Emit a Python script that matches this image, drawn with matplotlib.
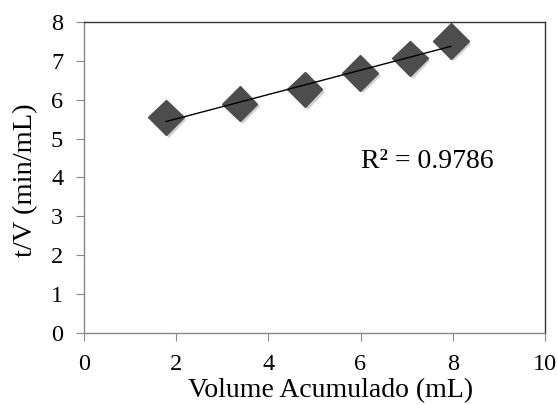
import numpy as np
import matplotlib
matplotlib.use("Agg")
import matplotlib.pyplot as plt
import matplotlib.patheffects as pe

plt.rcParams['font.family'] = ['Liberation Serif', 'DejaVu Serif']

volume = [1.78, 3.38, 4.79, 5.99, 7.07, 7.96]
t_over_v = [5.55, 5.90, 6.27, 6.69, 7.06, 7.51]
xticks = [0, 2, 4, 6, 8, 10]
yticks = [0, 1, 2, 3, 4, 5, 6, 7, 8]
r2_text = "R² = 0.9786"

fig = plt.figure(figsize=(5.58, 4.05), dpi=100)
ax = fig.add_axes([0.1505, 0.1778, 0.826, 0.768])

x = np.array(volume)
y = np.array(t_over_v)
m, b = np.polyfit(x, y, 1)
xl = np.array([x.min(), x.max()])

ax.plot(x, y, linestyle='none', marker='D', markersize=18,
        color='#4d4d4d', markeredgecolor='#4d4d4d', zorder=3,
        path_effects=[pe.SimplePatchShadow(offset=(2, -2), shadow_rgbFace='#666666', alpha=0.3), pe.Normal()])
ax.plot(xl, m * xl + b, color='black', linewidth=1.0, zorder=4)

ax.text(6.0, 4.4, r2_text, fontsize=20, va='center', ha='left')

ax.set_xlim(0, 10)
ax.set_ylim(0, 8)
ax.set_xticks(xticks)
ax.set_yticks(yticks)
ax.tick_params(direction='out', length=6, color='#888888', labelsize=17.5, pad=9)

for s in ['left', 'bottom']:
    ax.spines[s].set_color('#888888')
for s in ['top', 'right']:
    ax.spines[s].set_color('#333333')
for s in ax.spines.values():
    s.set_linewidth(1.0)

ax.set_xlabel('Volume Acumulado (mL)', fontsize=20)
ax.set_ylabel('t/V (min/mL)', fontsize=20.5)
ax.xaxis.set_label_coords(0.536, -0.145)
ax.yaxis.set_label_coords(-0.1, 0.49)

fig.savefig('out.png', dpi=100)
